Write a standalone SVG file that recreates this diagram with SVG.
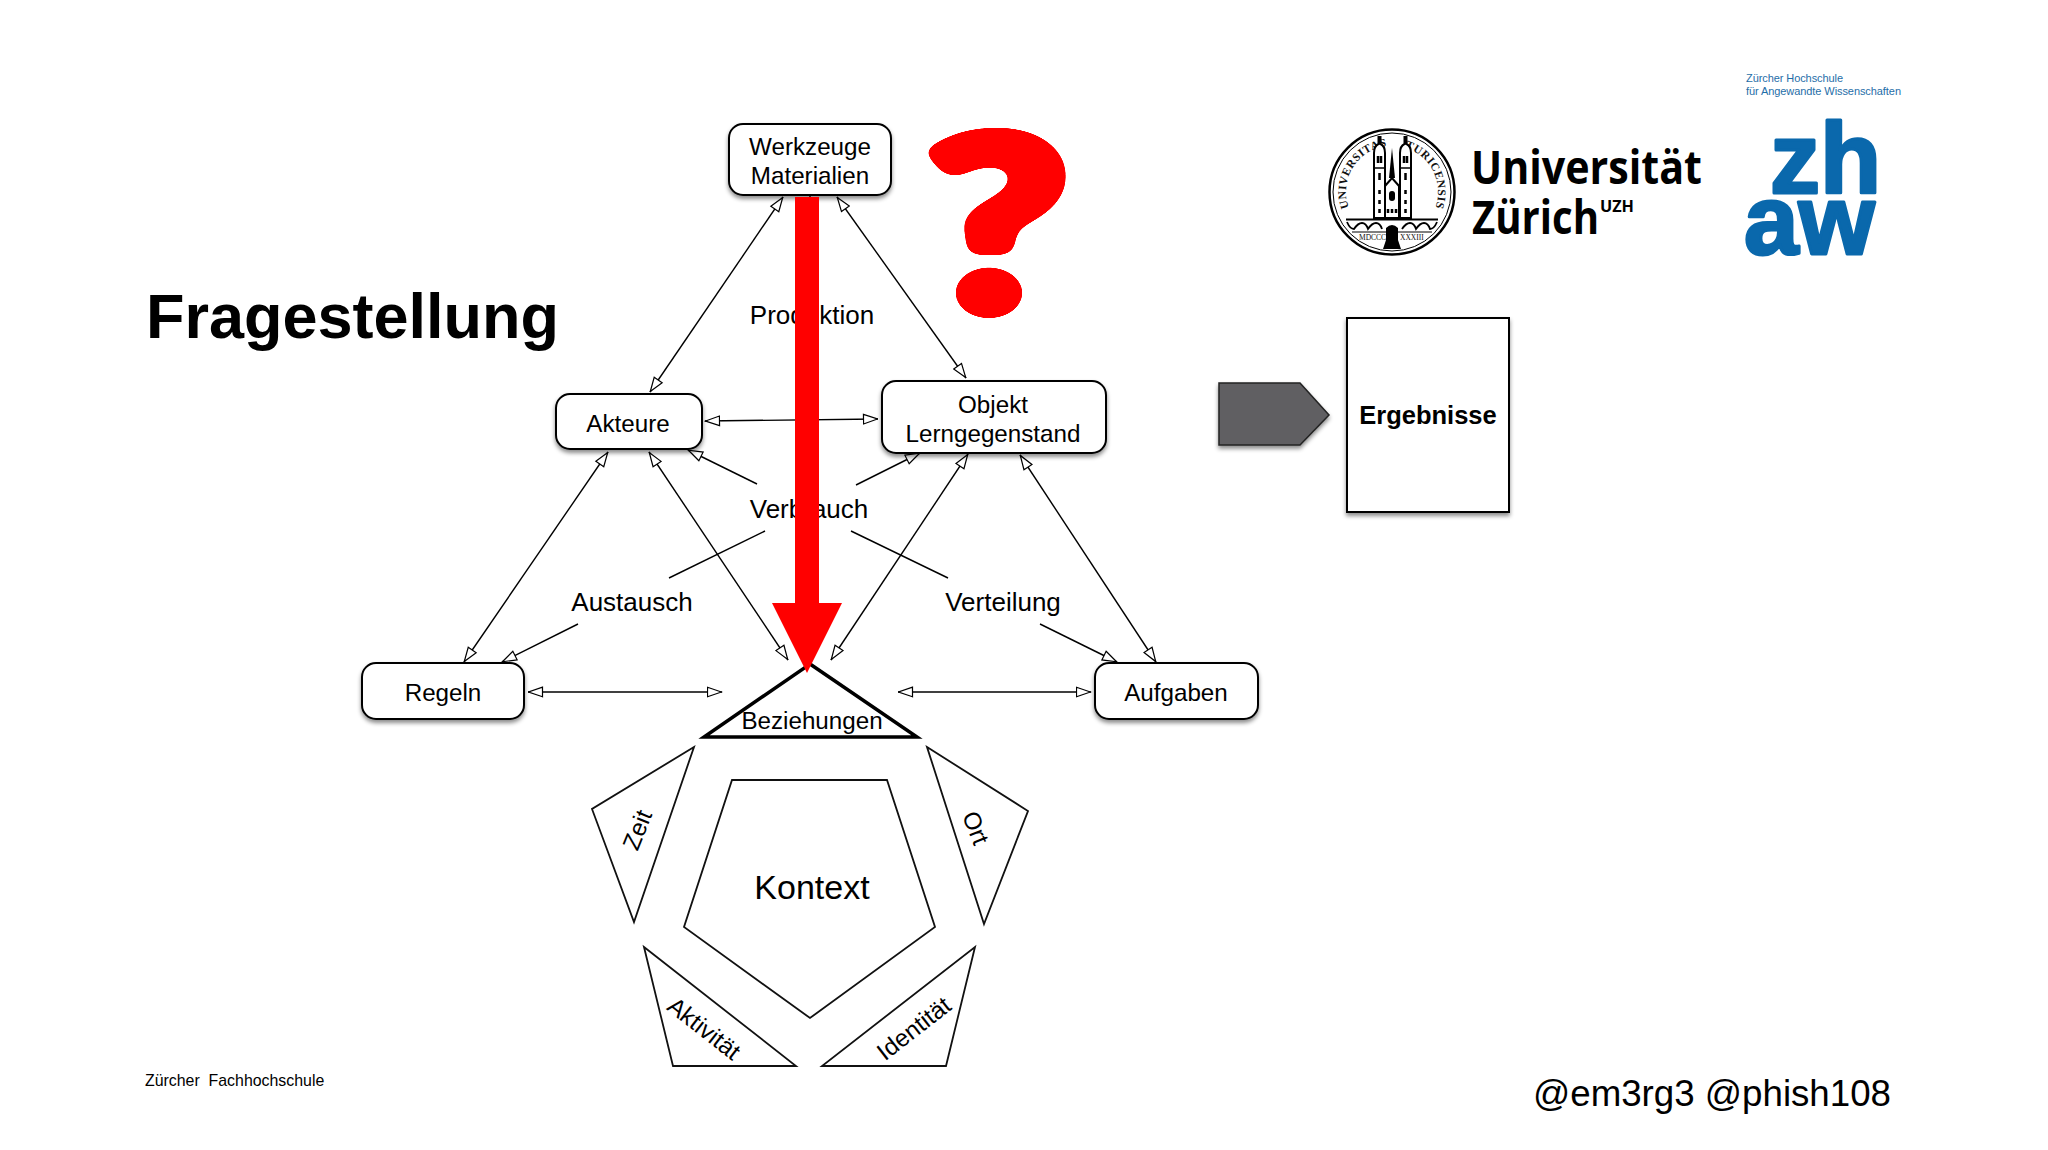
<svg xmlns="http://www.w3.org/2000/svg" xmlns:xlink="http://www.w3.org/1999/xlink" width="2048" height="1150" viewBox="0 0 2048 1150">
<style>
text{font-family:"Liberation Sans",Arial,sans-serif;fill:#000}
.n{font-size:24.2px;text-anchor:middle}
.l{font-size:26px;text-anchor:middle}
.b{fill:#fff;stroke:#000;stroke-width:2;filter:url(#sh)}
.t{fill:#fff;stroke:#111;stroke-width:1.8;stroke-linejoin:miter}
.c{stroke:#000;stroke-width:1.4;fill:none}
.d{marker-start:url(#ah);marker-end:url(#ah)}
.e{marker-end:url(#ah)}
.s{font-family:"Liberation Serif",serif;font-size:11.5px;fill:#111;letter-spacing:.5px;font-weight:700}
.z{font-weight:700;fill:#0a68ac;stroke:#0a68ac;stroke-width:3;stroke-linejoin:round}
.o{font-family:"Open Sans",sans-serif;font-weight:700;fill:#000}
</style>
<defs>
<filter id="sh" x="-10%" y="-10%" width="120%" height="125%"><feDropShadow dx="0" dy="3" stdDeviation="2" flood-color="#000" flood-opacity=".45"/></filter>
<filter id="round" x="-20%" y="-20%" width="140%" height="140%" color-interpolation-filters="sRGB"><feGaussianBlur stdDeviation="6"/><feComponentTransfer><feFuncA type="linear" slope="30" intercept="-14"/></feComponentTransfer></filter>
<marker id="ah" markerUnits="userSpaceOnUse" viewBox="0 0 16 12" refX="15.5" refY="6" markerWidth="16" markerHeight="12" orient="auto-start-reverse"><path d="M1 1.200 L15 6 L1 10.800 Z" fill="#fff" stroke="#000" stroke-width="1.200"/></marker>
<path id="ringL" d="M1348.800 207.700 A46 46 0 0 1 1388 146"/>
<path id="ringR" d="M1396 146 A46 46 0 0 1 1435.200 207.700"/>
</defs>
<rect width="2048" height="1150" fill="#fff"/>
<text id="title" x="146" y="338" font-size="63" font-weight="700">Fragestellung</text>
<text id="footer" x="145" y="1086" font-size="15.900" xml:space="preserve" style="white-space:pre">Zürcher  Fachhochschule</text>
<text id="handle" x="1533" y="1106" font-size="36.700" fill="#111">@em3rg3 @phish108</text>

<g id="connectors">
<line class="c d" x1="783" y1="197" x2="650" y2="392"/>
<line class="c d" x1="837" y1="197" x2="966" y2="378"/>
<line class="c d" x1="705" y1="421" x2="878" y2="419"/>
<line class="c e" x1="757" y1="484" x2="688" y2="450"/>
<line class="c e" x1="856" y1="485" x2="920" y2="453"/>
<line class="c d" x1="464" y1="662" x2="608" y2="452"/>
<line class="c d" x1="649" y1="452" x2="788" y2="660"/>
<line class="c d" x1="968" y1="454" x2="831" y2="660"/>
<line class="c d" x1="1020" y1="455" x2="1156" y2="662"/>
<line class="c" x1="765" y1="531" x2="669" y2="578"/>
<line class="c" x1="851" y1="531" x2="948" y2="578"/>
<line class="c e" x1="578" y1="624" x2="502" y2="662"/>
<line class="c e" x1="1040" y1="624" x2="1117" y2="662"/>
<line class="c d" x1="528" y1="692" x2="722" y2="692"/>
<line class="c d" x1="898" y1="692" x2="1091" y2="692"/>
<line class="c" x1="810" y1="195" x2="810" y2="300"/>
</g>

<g id="werkzeuge"><rect class="b" x="729" y="124" width="162" height="71" rx="14"/><text class="n" x="810" y="155">Werkzeuge</text><text class="n" x="810" y="184">Materialien</text></g>
<g id="akteure"><rect class="b" x="556" y="394" width="146" height="55" rx="14"/><text class="n" x="628" y="432">Akteure</text></g>
<g id="objekt"><rect class="b" x="882" y="381" width="224" height="72" rx="14"/><text class="n" x="993" y="413">Objekt</text><text class="n" x="993" y="442">Lerngegenstand</text></g>
<g id="regeln"><rect class="b" x="362" y="663" width="162" height="56" rx="14"/><text class="n" x="443" y="701">Regeln</text></g>
<g id="aufgaben"><rect class="b" x="1095" y="663" width="163" height="56" rx="14"/><text class="n" x="1176" y="701">Aufgaben</text></g>
<g id="beziehungen"><polygon points="810,664 917,737 704,737" fill="#fff" stroke="#000" stroke-width="3.500"/><text class="n" x="812" y="729">Beziehungen</text></g>

<g id="labels">
<text class="l" x="812" y="324">Produktion</text>
<text class="l" x="809" y="518">Verbrauch</text>
<text class="l" x="632" y="611">Austausch</text>
<text class="l" x="1003" y="611">Verteilung</text>
</g>

<g id="kontext"><polygon class="t" points="732,780 887,780 935,927 810,1018 684,927"/><text x="812" y="899" font-size="34" text-anchor="middle">Kontext</text></g>
<g id="zeit"><polygon class="t" points="694,747 592,809 634,922"/><text class="n" transform="translate(645,833) rotate(-68)">Zeit</text></g>
<g id="ort"><polygon class="t" points="927,747 1028,811 984,924"/><text class="n" transform="translate(968,831) rotate(68)">Ort</text></g>
<g id="aktivitaet"><polygon class="t" points="644,947 796,1066 673,1066"/><text class="n" transform="translate(699,1035) rotate(38)">Aktivität</text></g>
<g id="identitaet"><polygon class="t" points="975,947 946,1066 822,1066"/><text class="n" transform="translate(919,1035) rotate(-38)">Identität</text></g>

<g id="redarrow"><polygon points="795,197 819,197 819,603 842,603 807,673 772,603 795,603" fill="#f00"/></g>
<text id="question" transform="translate(-180.600,22) scale(1.200,.93)" x="921" y="310" font-size="258" font-weight="900" filter="url(#round)" style="font-family:Lato,'Liberation Sans',sans-serif;fill:#f00;stroke:#f00;stroke-width:14;stroke-linejoin:round">?</text>

<g id="pfeil"><polygon points="1219,383 1300,383 1329,415 1300,445 1219,445" fill="#605f62" stroke="#222" stroke-width="1.500" filter="url(#sh)"/></g>
<g id="ergebnisse"><rect class="b" x="1347" y="318" width="162" height="194"/><text x="1428" y="424" font-size="25.500" font-weight="700" text-anchor="middle">Ergebnisse</text></g>

<g id="uzh-logo">
<circle cx="1392" cy="192" r="62.500" fill="#fff" stroke="#000" stroke-width="2.500"/>
<circle cx="1392" cy="192" r="59" fill="none" stroke="#000" stroke-width="1"/>
<text class="s"><textPath xlink:href="#ringL" href="#ringL">UNIVERSITAS</textPath></text>
<text class="s" text-anchor="end"><textPath xlink:href="#ringR" href="#ringR" startOffset="100%">TURICENSIS</textPath></text>
<path d="M1374 218V153Q1374 146 1378.500 144V137H1380.500V144Q1385 146 1385 153V218ZM1400 218V153Q1400 146 1404.500 144V137H1406.500V144Q1411 146 1411 153V218ZM1385 218V186L1392 178L1399 186V218Z" fill="#fff" stroke="#000" stroke-width="2"/>
<path d="M1392 148L1395 178H1389Z" fill="#000"/>
<path d="M1374 168H1385M1400 168H1411" stroke="#000" stroke-width="1.500"/>
<path d="M1378 156v7M1381 156v7M1404 156v7M1407 156v7M1379.500 173v7M1405.500 173v7M1379.500 190v4M1405.500 190v4M1379.500 200v4M1405.500 200v4M1379.500 209v4M1405.500 209v4M1388 209v4M1392 209v4M1396 209v4" stroke="#000" stroke-width="2.500"/>
<rect x="1389" y="191" width="6" height="10" rx="3"/>
<path d="M1346 219.500H1438" stroke="#000" stroke-width="2"/>
<path d="M1347 222Q1350 229 1354 229Q1358 223 1362 223Q1366 223 1368 229Q1372 223 1376 223Q1380 223 1382 229M1402 229Q1406 223 1410 223Q1414 223 1416 229Q1420 223 1424 223Q1428 223 1430 229Q1434 229 1437 222" fill="none" stroke="#000" stroke-width="1.800"/>
<path d="M1352 232H1432" stroke="#000" stroke-width="1.200"/>
<path d="M1386 228Q1392 222 1398 228V240L1401 249H1383L1386 240Z" fill="#000"/>
<text x="1359" y="240" style="font-family:'Liberation Serif',serif;font-size:7.500px;fill:#111">MDCCC</text>
<text x="1400" y="240" style="font-family:'Liberation Serif',serif;font-size:7.500px;fill:#111">XXXIII</text>
<text class="o" x="1471" y="184" font-size="46" textLength="231" lengthAdjust="spacingAndGlyphs">Universität</text>
<text class="o" x="1472" y="234" font-size="46" textLength="127" lengthAdjust="spacingAndGlyphs">Zürich</text>
<text class="o" x="1600" y="212" font-size="16" textLength="34" lengthAdjust="spacingAndGlyphs">UZH</text>
</g>

<g id="zhaw-logo">
<text x="1746" y="82" font-size="11" style="fill:#1f6ea8" textLength="97">Zürcher Hochschule</text>
<text x="1746" y="95" font-size="11" style="fill:#1f6ea8" textLength="155">für Angewandte Wissenschaften</text>
<text class="z" x="1770" y="193" font-size="100">zh</text>
<text class="z" x="1744" y="254" font-size="98">aw</text>
</g>
</svg>
